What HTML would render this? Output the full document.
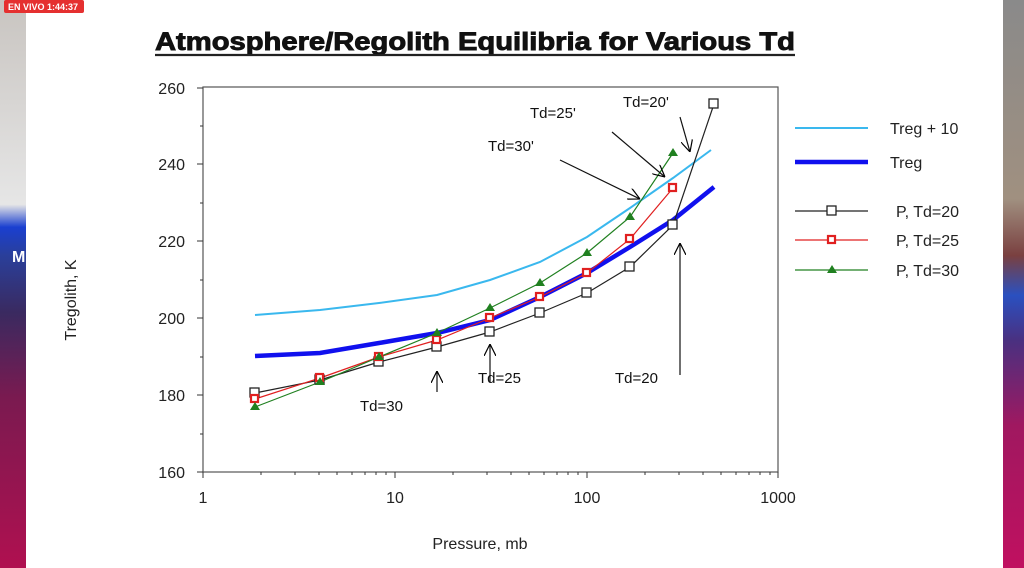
<!DOCTYPE html>
<html><head><meta charset="utf-8"><style>
html,body{margin:0;padding:0;width:1024px;height:568px;overflow:hidden;background:#fff}
</style></head><body>
<svg width="1024" height="568" viewBox="0 0 1024 568" xmlns="http://www.w3.org/2000/svg" font-family="Liberation Sans, Arial, sans-serif">
<defs>
<linearGradient id="lg" x1="0" y1="0" x2="0" y2="1">
<stop offset="0" stop-color="#c8c4c0"/><stop offset="0.36" stop-color="#e6e6e6"/><stop offset="0.4" stop-color="#1a3fd0"/><stop offset="0.45" stop-color="#2a3f9a"/><stop offset="0.55" stop-color="#3a2a60"/><stop offset="0.7" stop-color="#7a1a50"/><stop offset="1" stop-color="#b01050"/>
</linearGradient>
<linearGradient id="rg" x1="0" y1="0" x2="0" y2="1">
<stop offset="0" stop-color="#8a8a8a"/><stop offset="0.35" stop-color="#a09080"/><stop offset="0.45" stop-color="#7a4040"/><stop offset="0.52" stop-color="#2a50c0"/><stop offset="0.6" stop-color="#4a3080"/><stop offset="0.75" stop-color="#a01860"/><stop offset="1" stop-color="#c01060"/>
</linearGradient>
<marker id="ah" viewBox="0 0 10 10" refX="10" refY="5" markerWidth="10" markerHeight="10" orient="auto"><path d="M0,0 L10,5 L0,10" fill="none" stroke="#000" stroke-width="1"/></marker>
</defs>
<rect x="0" y="0" width="26" height="568" fill="url(#lg)"/>
<rect x="1003" y="0" width="21" height="568" fill="url(#rg)"/>
<rect x="4" y="0" width="80" height="13" fill="#e53030" rx="2"/>
<text x="8" y="10" font-size="9" font-weight="bold" fill="#fff">EN VIVO 1:44:37</text>
<text x="12" y="262" font-size="16" font-weight="bold" fill="#fff">M</text>

<text x="155" y="50" font-size="25" font-weight="bold" textLength="640" lengthAdjust="spacingAndGlyphs" fill="#111" stroke="#111" stroke-width="0.9">Atmosphere/Regolith Equilibria for Various Td</text>
<line x1="155" y1="55" x2="795" y2="55" stroke="#222" stroke-width="2.2"/>

<rect x="203" y="87" width="575" height="385" fill="none" stroke="#555" stroke-width="1.2"/>
<g stroke="#333" stroke-width="1">
<line x1="197" y1="88" x2="203" y2="88"/><line x1="197" y1="164" x2="203" y2="164"/><line x1="197" y1="241" x2="203" y2="241"/><line x1="197" y1="318" x2="203" y2="318"/><line x1="197" y1="395" x2="203" y2="395"/><line x1="197" y1="472" x2="203" y2="472"/>
<line x1="200" y1="126" x2="203" y2="126"/><line x1="200" y1="203" x2="203" y2="203"/><line x1="200" y1="280" x2="203" y2="280"/><line x1="200" y1="357" x2="203" y2="357"/><line x1="200" y1="434" x2="203" y2="434"/>
<path d="M203,472v6M395,472v6M587,472v6M778,472v6"/>
<path d="M261,472v3M295,472v3M319,472v3M337,472v3M352,472v3M365,472v3M376,472v3M386,472v3
M453,472v3M487,472v3M511,472v3M529,472v3M544,472v3M557,472v3M568,472v3M578,472v3
M645,472v3M679,472v3M703,472v3M721,472v3M736,472v3M749,472v3M760,472v3M770,472v3"/>
</g>
<g font-size="16" fill="#222" text-anchor="end">
<text x="185" y="94">260</text><text x="185" y="170">240</text><text x="185" y="247">220</text><text x="185" y="324">200</text><text x="185" y="401">180</text><text x="185" y="478">160</text>
</g>
<g font-size="16" fill="#222" text-anchor="middle">
<text x="203" y="503">1</text><text x="395" y="503">10</text><text x="587" y="503">100</text><text x="778" y="503">1000</text>
</g>
<text x="480" y="549" font-size="16" text-anchor="middle" fill="#222">Pressure, mb</text>
<text transform="translate(76,300) rotate(-90)" font-size="16" text-anchor="middle" fill="#222">Tregolith, K</text>

<polyline fill="none" stroke="#3ab8ee" stroke-width="2" points="255,315 320,310 379,303 437,295 490,280 540,262 587,237 630,208 673,178 711,150"/>
<polyline fill="none" stroke="#1010ee" stroke-width="4.5" points="255,356 320,353 379,343 437,333 490,320 540,297 587,273 630,247 673,220 714,187"/>
<polyline fill="none" stroke="#222" stroke-width="1.2" points="255,393 320,380 379,362 437,347 490,332 540,313 587,293 630,267 673,225 714,104"/>
<polyline fill="none" stroke="#e02020" stroke-width="1.2" points="255,399 320,378 379,357 437,340 490,318 540,297 587,273 630,239 673,188"/>
<polyline fill="none" stroke="#208020" stroke-width="1.2" points="255,407 320,382 379,357 437,333 490,308 540,283 587,253 630,217 673,153"/>
<g fill="#fff" stroke="#222" stroke-width="1.3">
<rect x="250" y="388" width="9" height="9"/><rect x="315" y="375" width="9" height="9"/><rect x="374" y="357" width="9" height="9"/><rect x="432" y="342" width="9" height="9"/><rect x="485" y="327" width="9" height="9"/><rect x="535" y="308" width="9" height="9"/><rect x="582" y="288" width="9" height="9"/><rect x="625" y="262" width="9" height="9"/><rect x="668" y="220" width="9" height="9"/><rect x="709" y="99" width="9" height="9"/>
</g>
<g fill="#fff" stroke="#e02020" stroke-width="2.2">
<rect x="251" y="395" width="7" height="7"/><rect x="316" y="374" width="7" height="7"/><rect x="375" y="353" width="7" height="7"/><rect x="433" y="336" width="7" height="7"/><rect x="486" y="314" width="7" height="7"/><rect x="536" y="293" width="7" height="7"/><rect x="583" y="269" width="7" height="7"/><rect x="626" y="235" width="7" height="7"/><rect x="669" y="184" width="7" height="7"/>
</g>
<g fill="#208020">
<path d="M255,402l5,8h-10z"/><path d="M320,377l5,8h-10z"/><path d="M379,352l5,8h-10z"/><path d="M437,328l5,8h-10z"/><path d="M490,303l5,8h-10z"/><path d="M540,278l5,8h-10z"/><path d="M587,248l5,8h-10z"/><path d="M630,212l5,8h-10z"/><path d="M673,148l5,8h-10z"/>
</g>

<g stroke="#111" stroke-width="1.2" fill="none">
<line x1="437" y1="392" x2="437" y2="371" marker-end="url(#ah)"/>
<line x1="490" y1="382" x2="490" y2="344" marker-end="url(#ah)"/>
<line x1="680" y1="375" x2="680" y2="243" marker-end="url(#ah)"/>
<line x1="560" y1="160" x2="640" y2="199" marker-end="url(#ah)"/>
<line x1="612" y1="132" x2="665" y2="177" marker-end="url(#ah)"/>
<line x1="680" y1="117" x2="690" y2="152" marker-end="url(#ah)"/>
</g>
<g font-size="15" fill="#111">
<text x="360" y="411">Td=30</text>
<text x="478" y="383">Td=25</text>
<text x="615" y="383">Td=20</text>
<text x="488" y="151">Td=30'</text>
<text x="530" y="118">Td=25'</text>
<text x="623" y="107">Td=20'</text>
</g>

<line x1="795" y1="128" x2="868" y2="128" stroke="#3ab8ee" stroke-width="2"/>
<line x1="795" y1="162" x2="868" y2="162" stroke="#1010ee" stroke-width="4.5"/>
<line x1="795" y1="211" x2="868" y2="211" stroke="#222" stroke-width="1.2"/>
<rect x="827" y="206" width="9" height="9" fill="#fff" stroke="#222" stroke-width="1.3"/>
<line x1="795" y1="240" x2="868" y2="240" stroke="#e02020" stroke-width="1.2"/>
<rect x="828" y="236" width="7" height="7" fill="#fff" stroke="#e02020" stroke-width="2.2"/>
<line x1="795" y1="270" x2="868" y2="270" stroke="#208020" stroke-width="1.2"/>
<path d="M832,265l5,8h-10z" fill="#208020"/>
<g font-size="16" fill="#222">
<text x="890" y="134">Treg + 10</text>
<text x="890" y="168">Treg</text>
<text x="896" y="217">P, Td=20</text>
<text x="896" y="246">P, Td=25</text>
<text x="896" y="276">P, Td=30</text>
</g>
</svg>
</body></html>
